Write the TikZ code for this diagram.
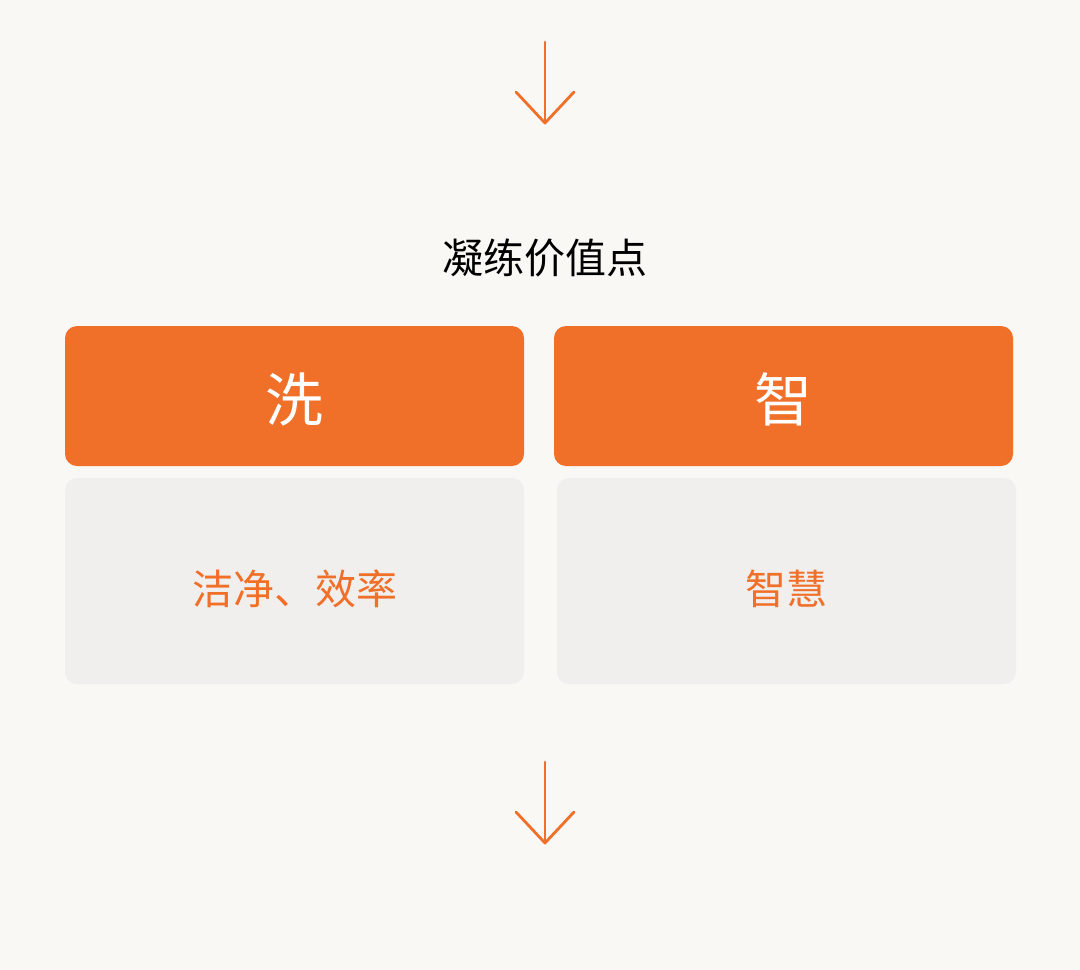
\documentclass[tikz,border=0pt]{standalone}
\usepackage{fontspec}
\usetikzlibrary{calc}
\newfontfamily\cjk{Noto Sans CJK SC}
\definecolor{bg}{HTML}{F9F8F5}
\definecolor{org}{HTML}{F07029}
\definecolor{gry}{HTML}{F0EFED}
\newcommand{\shiftdown}[2]{\raisebox{-#1}[\height][\depth]{#2}}
\begin{document}
\begin{tikzpicture}[x=1pt,y=-1pt,
  headbox/.style={fill=org,rounded corners=12pt,inner sep=0pt,minimum width=459pt,minimum height=140pt,text=white,font=\cjk\fontsize{58}{60}\selectfont},
  bodybox/.style={fill=gry,rounded corners=12pt,inner sep=0pt,minimum width=459pt,minimum height=206pt,text=org,font=\cjk\fontsize{41}{44}\selectfont},
  arr/.style={draw=org,line width=2.8pt,line cap=round,line join=round}]
\fill[bg] (0,0) rectangle (1080,970);
\useasboundingbox (0,0) rectangle (1080,970);
\node[font=\cjk\fontsize{41}{44}\selectfont,text=black] (title) at (545,258) {凝练价值点};
\node[headbox] (h1) at (294.5,396) {\shiftdown{3pt}{洗}};
\node[headbox] (h2) at (783.5,396) {\shiftdown{3pt}{智}};
\node[bodybox] (b1) at (294.5,581) {\shiftdown{8pt}{洁净、效率}};
\node[bodybox] (b2) at (786.5,581) {\shiftdown{8pt}{智慧}};
\coordinate (a1s) at (545,42);
\coordinate (a1e) at (545,123);
\coordinate (a2s) at (545,762);
\coordinate (a2e) at (545,843);
\draw[arr] (a1s) -- (a1e);
\draw[arr] ($(a1e)+(-29,-31)$) -- (a1e) -- ($(a1e)+(29,-31)$);
\draw[arr] (a2s) -- (a2e);
\draw[arr] ($(a2e)+(-29,-31)$) -- (a2e) -- ($(a2e)+(29,-31)$);
\end{tikzpicture}
\end{document}
